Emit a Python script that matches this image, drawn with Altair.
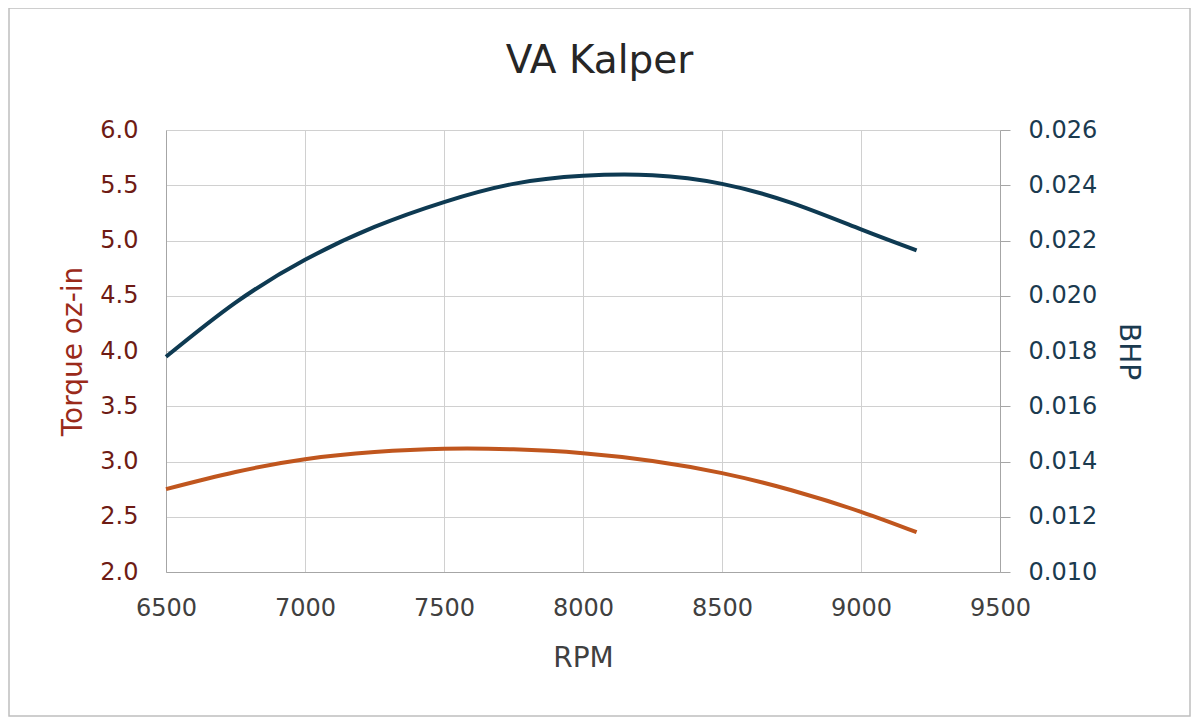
import altair as alt
import pandas as pd

rpm = [6500, 6750, 7000, 7250, 7500, 7750, 8000, 8250, 8500, 8750, 9000, 9200]
torque = [2.75, 2.905, 3.02, 3.085, 3.115, 3.11, 3.075, 3.005, 2.895, 2.74, 2.545, 2.36]
bhp = [0.01779, 0.01975, 0.02130, 0.02249, 0.02339, 0.02405, 0.02434, 0.02436,
       0.02405, 0.02336, 0.02240, 0.02164]

x_ticks = [6500, 7000, 7500, 8000, 8500, 9000, 9500]
torque_ticks = [2.0, 2.5, 3.0, 3.5, 4.0, 4.5, 5.0, 5.5, 6.0]
bhp_ticks = [0.010, 0.012, 0.014, 0.016, 0.018, 0.020, 0.022, 0.024, 0.026]

df = pd.DataFrame({"RPM": rpm, "Torque": torque, "BHP": bhp})

FONT = "DejaVu Sans"
GRID = "#D0D0D0"
DOMAIN = "#A6A6A6"

x_enc = alt.X("RPM:Q", scale=alt.Scale(domain=[6500, 9500], nice=False),
              axis=alt.Axis(values=x_ticks, format="d", title="RPM",
                            labelFontSize=24, titleFontSize=28, labelColor="#404040",
                            titleColor="#404040", titleFontWeight="normal",
                            ticks=False, labelPadding=24, labelFlush=False,
                            labelOverlap=False, titlePadding=24,
                            domainColor=DOMAIN, gridColor=GRID))

torque_line = alt.Chart(df).mark_line(color="#C0561E", strokeWidth=4,
                                      interpolate="natural").encode(
    x=x_enc,
    y=alt.Y("Torque:Q", scale=alt.Scale(domain=[2, 6], nice=False),
            axis=alt.Axis(values=torque_ticks, format=".1f", title="Torque oz-in",
                          orient="left", labelFontSize=24, titleFontSize=28,
                          labelColor="#6E1B14", titleColor="#9A2A1A",
                          titleFontWeight="normal", ticks=False, labelPadding=28,
                          labelFlush=False, labelOverlap=False,
                          titlePadding=12, domainColor=DOMAIN, gridColor=GRID))
)

bhp_line = alt.Chart(df).mark_line(color="#0E3A52", strokeWidth=4,
                                   interpolate="natural").encode(
    x=x_enc,
    y=alt.Y("BHP:Q", scale=alt.Scale(domain=[0.010, 0.026], nice=False),
            axis=alt.Axis(values=bhp_ticks, format=".3f", title="BHP",
                          orient="right", labelFontSize=24, titleFontSize=28,
                          labelColor="#1B3A4F", titleColor="#1B3A4F",
                          titleFontWeight="normal", ticks=True, tickSize=10,
                          tickColor=DOMAIN, labelPadding=18, titlePadding=17,
                          labelFlush=False, labelOverlap=False,
                          domainColor=DOMAIN, grid=False))
)

border = alt.Chart(alt.Data(values=[{"k": 1}])).mark_rect(
    fill=None, stroke="#BFBFBF", strokeWidth=1.5
).encode(
    x=alt.value(-157), x2=alt.value(1024),
    y=alt.value(-122), y2=alt.value(586)
)

chart = alt.layer(border, torque_line, bhp_line).resolve_scale(
    y="independent"
).properties(
    width=834, height=442,
    padding={"left": 158, "top": 122, "right": 192, "bottom": 147},
    autosize=alt.AutoSizeParams(type="none"),
    title=alt.TitleParams("VA Kalper", fontSize=39, font=FONT,
                          fontWeight="normal", color="#262626",
                          anchor="middle", frame="bounds",
                          baseline="alphabetic", offset=-105),
    background="white",
).configure_view(stroke=None).configure_axis(
    labelFont=FONT, titleFont=FONT
)

chart.save("out.html", embed_options={"renderer": "svg", "actions": False})
